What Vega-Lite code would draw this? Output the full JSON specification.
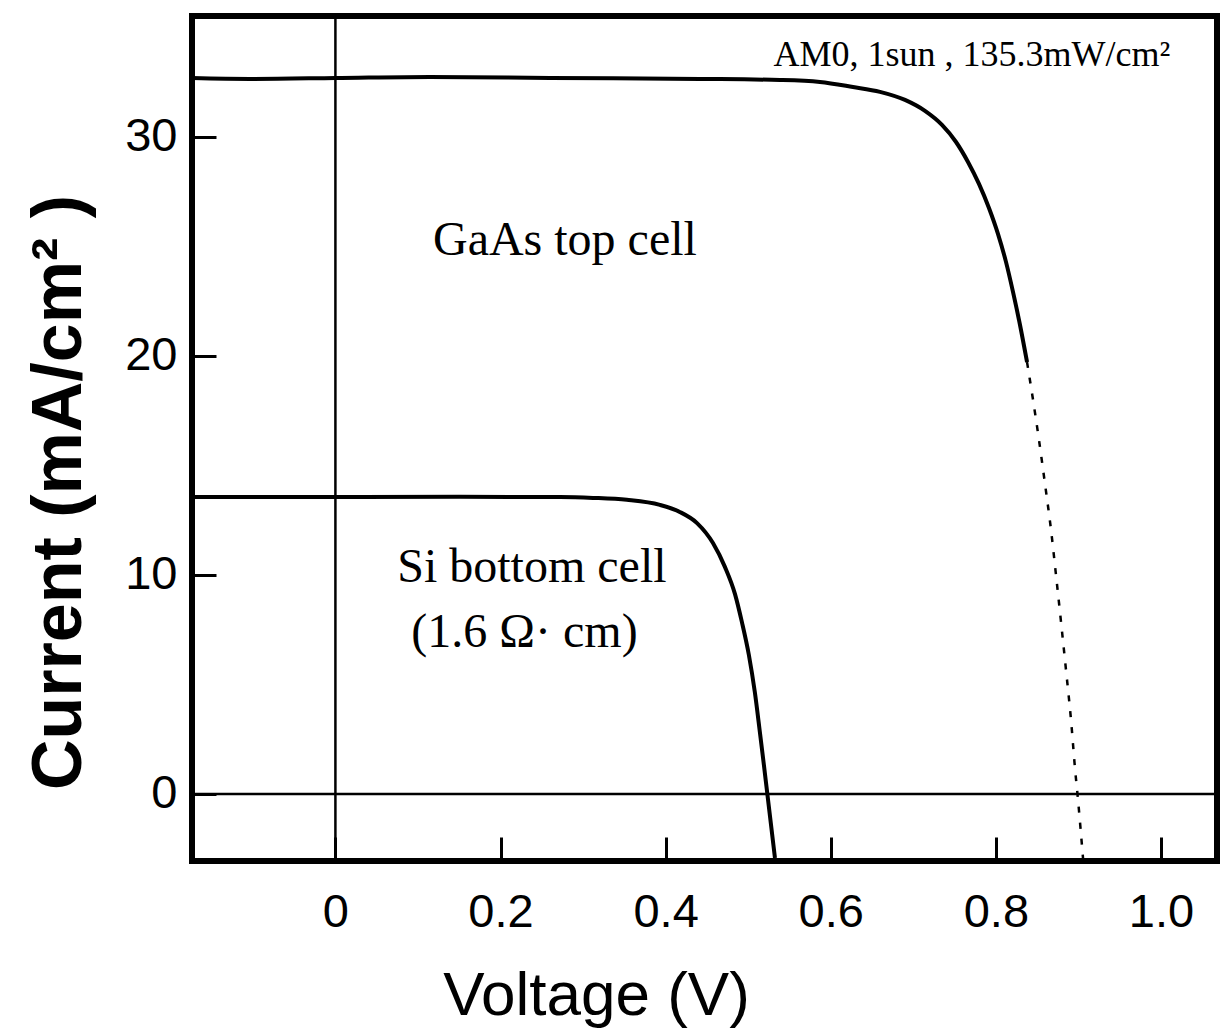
{
  "$schema": "https://vega.github.io/schema/vega-lite/v6.json",
  "width": 1025,
  "height": 845,
  "autosize": {"type": "none"},
  "padding": {"left": 192, "top": 16, "right": 5, "bottom": 169},
  "background": "white",
  "config": {
    "view": {"stroke": "black", "strokeWidth": 6},
    "font": "Liberation Sans"
  },
  "datasets": {
    "gaas_solid": [
      {"V": -0.1737, "I": 32.67}, {"V": -0.1034, "I": 32.63}, {"V": 0.0, "I": 32.67},
      {"V": 0.1146, "I": 32.72}, {"V": 0.26, "I": 32.67}, {"V": 0.4416, "I": 32.63},
      {"V": 0.5385, "I": 32.58}, {"V": 0.5869, "I": 32.49}, {"V": 0.6269, "I": 32.26},
      {"V": 0.6596, "I": 32.04}, {"V": 0.6899, "I": 31.67}, {"V": 0.7141, "I": 31.17},
      {"V": 0.7347, "I": 30.53}, {"V": 0.7517, "I": 29.75}, {"V": 0.7662, "I": 28.84},
      {"V": 0.7795, "I": 27.84}, {"V": 0.7916, "I": 26.74}, {"V": 0.8025, "I": 25.56},
      {"V": 0.8122, "I": 24.28}, {"V": 0.8207, "I": 22.91}, {"V": 0.8292, "I": 21.4},
      {"V": 0.8377, "I": 19.71}
    ],
    "gaas_dotted": [
      {"V": 0.8377, "I": 19.71}, {"V": 0.845, "I": 17.98}, {"V": 0.8522, "I": 16.15},
      {"V": 0.8595, "I": 14.14}, {"V": 0.8668, "I": 12.04}, {"V": 0.8728, "I": 9.99},
      {"V": 0.8789, "I": 7.84}, {"V": 0.8849, "I": 5.66}, {"V": 0.891, "I": 3.37},
      {"V": 0.8958, "I": 1.17}, {"V": 0.8995, "I": -0.28}, {"V": 0.9055, "I": -2.93}
    ],
    "si": [
      {"V": -0.1737, "I": 13.55}, {"V": 0.0, "I": 13.55}, {"V": 0.15, "I": 13.56},
      {"V": 0.272, "I": 13.55}, {"V": 0.312, "I": 13.51}, {"V": 0.353, "I": 13.42},
      {"V": 0.393, "I": 13.19}, {"V": 0.417, "I": 12.87}, {"V": 0.438, "I": 12.36},
      {"V": 0.4573, "I": 11.45}, {"V": 0.4719, "I": 10.35}, {"V": 0.484, "I": 9.12},
      {"V": 0.4923, "I": 7.85}, {"V": 0.5008, "I": 6.34}, {"V": 0.508, "I": 4.65},
      {"V": 0.5141, "I": 2.83}, {"V": 0.519, "I": 1.32}, {"V": 0.5226, "I": 0.18},
      {"V": 0.5324, "I": -2.92}
    ],
    "cell_labels": [
      {"V": 0.278, "I": 25.25, "label": "GaAs top cell"},
      {"V": 0.238, "I": 10.3, "label": "Si bottom cell"},
      {"V": 0.229, "I": 7.35, "label": "(1.6 Ω· cm)"}
    ],
    "cond_label": [
      {"V": 0.771, "I": 33.7, "label": "AM0, 1sun , 135.3mW/cm²"}
    ]
  },
  "layer": [
    {
      "data": {"values": [{"I": 0}]},
      "mark": {"type": "rule", "color": "black", "strokeWidth": 2.5},
      "encoding": {
        "y": {"field": "I", "type": "quantitative", "scale": {"domain": [-3.06, 35.5], "nice": false, "zero": false}}
      }
    },
    {
      "data": {"values": [{"V": 0}]},
      "mark": {"type": "rule", "color": "black", "strokeWidth": 2.5},
      "encoding": {
        "x": {"field": "V", "type": "quantitative", "scale": {"domain": [-0.1737, 1.0678], "nice": false, "zero": false}}
      }
    },
    {
      "data": {"name": "gaas_solid"},
      "mark": {"type": "line", "color": "black", "strokeWidth": 4, "interpolate": "monotone", "clip": true},
      "encoding": {
        "x": {
          "field": "V", "type": "quantitative",
          "scale": {"domain": [-0.1737, 1.0678], "nice": false, "zero": false},
          "axis": {
            "values": [0, 0.2, 0.4, 0.6, 0.8, 1.0],
            "labelExpr": "datum.value == 0 ? '0' : format(datum.value, '.1f')",
            "domain": false, "grid": false,
            "tickSize": -24, "tickWidth": 3, "tickColor": "black",
            "labelFont": "Liberation Sans", "labelFontSize": 47, "labelColor": "black",
            "labelPadding": 52, "labelFlush": false, "labelOverlap": false,
            "title": "Voltage (V)", "titleFont": "Liberation Sans", "titleFontSize": 62,
            "titleFontWeight": "normal", "titleColor": "black",
            "titleX": 404, "titleY": 153, "titleBaseline": "alphabetic", "titleAlign": "center"
          }
        },
        "y": {
          "field": "I", "type": "quantitative",
          "scale": {"domain": [-3.06, 35.5], "nice": false, "zero": false},
          "axis": {
            "values": [0, 10, 20, 30],
            "domain": false, "grid": false,
            "tickSize": -24, "tickWidth": 3, "tickColor": "black",
            "labelFont": "Liberation Sans", "labelFontSize": 47, "labelColor": "black",
            "labelPadding": 39, "labelFlush": false, "labelOverlap": false,
            "title": "Current (mA/cm² )", "titleFont": "Liberation Sans", "titleFontSize": 70,
            "titleFontWeight": "bold", "titleColor": "black",
            "titleY": 476, "titleX": -112, "titleAngle": -90, "titleBaseline": "alphabetic", "titleAlign": "center"
          }
        }
      }
    },
    {
      "data": {"name": "gaas_dotted"},
      "mark": {"type": "line", "color": "black", "strokeWidth": 2.5, "strokeDash": [6, 10], "interpolate": "monotone", "clip": true},
      "encoding": {
        "x": {"field": "V", "type": "quantitative", "scale": {"domain": [-0.1737, 1.0678], "nice": false, "zero": false}},
        "y": {"field": "I", "type": "quantitative", "scale": {"domain": [-3.06, 35.5], "nice": false, "zero": false}}
      }
    },
    {
      "data": {"name": "si"},
      "mark": {"type": "line", "color": "black", "strokeWidth": 4, "interpolate": "monotone", "clip": true},
      "encoding": {
        "x": {"field": "V", "type": "quantitative", "scale": {"domain": [-0.1737, 1.0678], "nice": false, "zero": false}},
        "y": {"field": "I", "type": "quantitative", "scale": {"domain": [-3.06, 35.5], "nice": false, "zero": false}}
      }
    },
    {
      "data": {"name": "cell_labels"},
      "mark": {"type": "text", "font": "Liberation Serif", "fontSize": 48, "color": "black", "align": "center", "baseline": "middle"},
      "encoding": {
        "x": {"field": "V", "type": "quantitative", "scale": {"domain": [-0.1737, 1.0678], "nice": false, "zero": false}},
        "y": {"field": "I", "type": "quantitative", "scale": {"domain": [-3.06, 35.5], "nice": false, "zero": false}},
        "text": {"field": "label"}
      }
    },
    {
      "data": {"name": "cond_label"},
      "mark": {"type": "text", "font": "Liberation Serif", "fontSize": 36, "color": "black", "align": "center", "baseline": "middle"},
      "encoding": {
        "x": {"field": "V", "type": "quantitative", "scale": {"domain": [-0.1737, 1.0678], "nice": false, "zero": false}},
        "y": {"field": "I", "type": "quantitative", "scale": {"domain": [-3.06, 35.5], "nice": false, "zero": false}},
        "text": {"field": "label"}
      }
    }
  ]
}
